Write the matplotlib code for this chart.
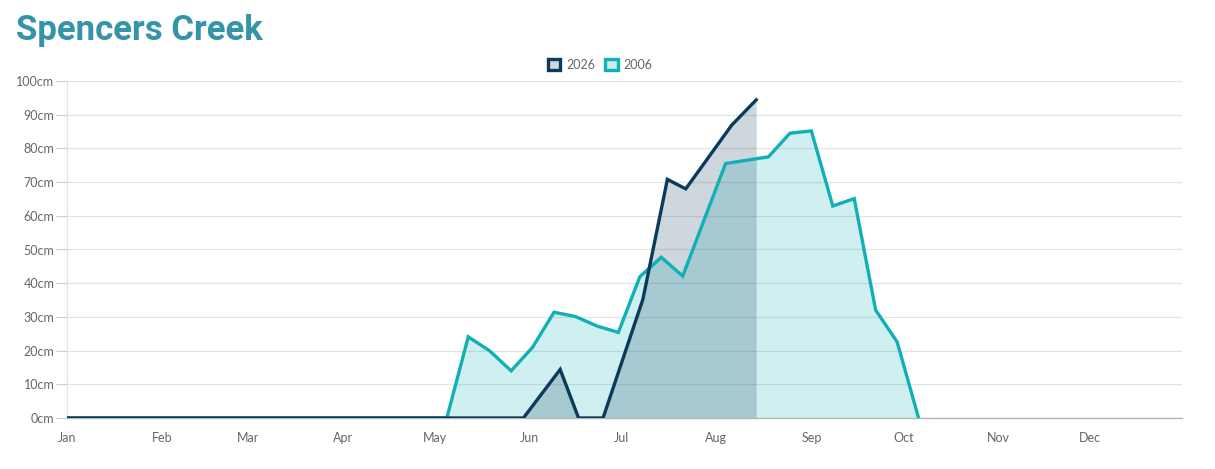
import matplotlib
matplotlib.use("Agg")
import matplotlib.pyplot as plt
import matplotlib.dates as mdates
from matplotlib.patches import Patch
import pandas as pd

# ---- data ----
dates_2006 = ["2026-01-01", "2026-05-05", "2026-05-12", "2026-05-19", "2026-05-26",
              "2026-06-02", "2026-06-09", "2026-06-16", "2026-06-23", "2026-06-30",
              "2026-07-07", "2026-07-14", "2026-07-21", "2026-07-28", "2026-08-04",
              "2026-08-11", "2026-08-18", "2026-08-25", "2026-09-01", "2026-09-08",
              "2026-09-15", "2026-09-22", "2026-09-29", "2026-10-06"]
depth_2006 = [0, 0, 24.1, 19.9, 14.0, 21.0, 31.4, 30.1, 27.3, 25.4,
              41.9, 47.7, 42.1, 58.8, 75.5, 76.5, 77.5, 84.5, 85.2, 62.9,
              65.1, 32.0, 22.6, 0]

dates_2026 = ["2026-01-01", "2026-05-30", "2026-06-11", "2026-06-17", "2026-06-25",
              "2026-07-08", "2026-07-16", "2026-07-22", "2026-08-06", "2026-08-14"]
depth_2026 = [0, 0, 14.4, 0, 0, 35.2, 70.8, 68.0, 86.9, 94.4]

month_labels = ["Jan", "Feb", "Mar", "Apr", "May", "Jun",
                "Jul", "Aug", "Sep", "Oct", "Nov", "Dec"]
y_ticks = [0, 10, 20, 30, 40, 50, 60, 70, 80, 90, 100]

title = "Spencers Creek"

# ---- style ----
c_2026 = "#0b3a5b"
c_2006 = "#10b0b6"
grid_c = "#e3e3e3"
text_c = "#666666"

plt.rcParams['font.family'] = ['Lato', 'DejaVu Sans']

fig = plt.figure(figsize=(12.15, 4.69), dpi=100)
ax = fig.add_axes([67 / 1215, 1 - 418 / 469, (1182 - 67) / 1215, (418 - 81) / 469])

x06 = pd.to_datetime(dates_2006)
x26 = pd.to_datetime(dates_2026)

ax.fill_between(x06, depth_2006, 0, color=c_2006, alpha=0.2, linewidth=0, zorder=2)
ax.fill_between(x26, depth_2026, 0, color=c_2026, alpha=0.2, linewidth=0, zorder=2)
ax.plot(x06, depth_2006, color=c_2006, lw=2.4, zorder=4, solid_joinstyle='miter')
ax.plot(x26, depth_2026, color=c_2026, lw=2.4, zorder=5, solid_joinstyle='miter')

ax.set_xlim(pd.Timestamp("2026-01-01"), pd.Timestamp("2026-12-31"))
ax.set_ylim(0, 100)

month_pos = pd.date_range("2026-01-01", periods=12, freq="MS")
ax.set_xticks(month_pos)
ax.set_xticklabels(month_labels)
ax.set_yticks(y_ticks)
ax.set_yticklabels([f"{v}cm" for v in y_ticks])

ax.tick_params(axis='x', length=0, pad=10, labelsize=9, labelcolor=text_c)
ax.tick_params(axis='y', length=8, width=0.8, color="#cccccc", pad=1,
               labelsize=9, labelcolor=text_c)

ax.grid(axis='y', color=grid_c, lw=0.9, zorder=0)
ax.set_axisbelow(True)
for s in ["top", "right"]:
    ax.spines[s].set_visible(False)
ax.spines["left"].set_color(grid_c)
ax.spines["left"].set_linewidth(0.9)
ax.spines["bottom"].set_color("#b5b5b5")
ax.spines["bottom"].set_linewidth(1.0)

fig.text(16 / 1215, 1 - 30 / 469, title, fontsize=25, fontweight='bold',
         color="#3594a8", va='center', ha='left', family=['Roboto', 'DejaVu Sans'])

handles = [Patch(facecolor="#cdd8e1", edgecolor=c_2026, linewidth=2.4, label="2026"),
           Patch(facecolor="#ccecee", edgecolor=c_2006, linewidth=2.4, label="2006")]
leg = fig.legend(handles=handles, loc='center', bbox_to_anchor=(600 / 1215, 1 - 65 / 469),
                 ncol=2, frameon=False, fontsize=9, handlelength=1.0, handleheight=1.0,
                 handletextpad=0.45, columnspacing=0.8, labelcolor=text_c)

fig.savefig("out.png", dpi=100)
